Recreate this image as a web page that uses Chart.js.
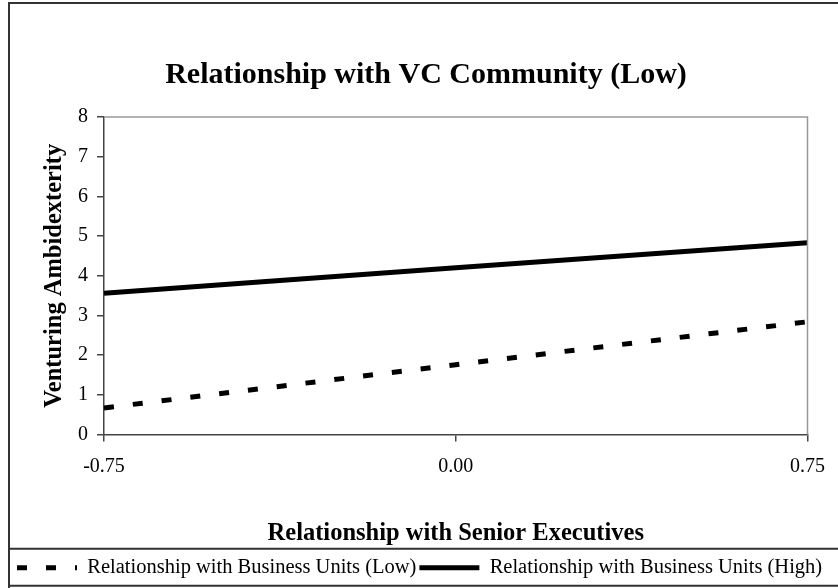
<!DOCTYPE html>
<html>
<head>
<meta charset="utf-8">
<script src="https://cdn.jsdelivr.net/npm/chart.js@4/dist/chart.umd.min.js"></script>
<style>
  body { margin: 0; background: #fff; }
  canvas { display: block; }
</style>
</head>
<body>
<canvas id="chart" width="838" height="588"></canvas>
<script>
const categories = ['-0.75', '0.00', '0.75'];
const lowValues = [0.67, 1.76, 2.84];
const highValues = [3.56, 4.20, 4.83];
const seriesNames = ['Relationship with Business Units (Low)', 'Relationship with Business Units (High)'];

Chart.defaults.font.family = '"Liberation Serif", "Times New Roman", serif';
Chart.defaults.color = '#000';

// frame around the chart, legend box and the grey top/right edge of the plot
const framePlugin = {
  id: 'frame',
  afterDraw(chart) {
    const ctx = chart.ctx;
    const a = chart.chartArea;
    const lg = chart.legend;
    ctx.save();
    ctx.strokeStyle = '#999';
    ctx.lineWidth = 1.5;
    ctx.beginPath();
    ctx.moveTo(a.left, a.top);
    ctx.lineTo(a.right, a.top);
    ctx.lineTo(a.right, a.bottom);
    ctx.stroke();

    ctx.strokeStyle = '#333';
    ctx.lineWidth = 2;
    ctx.beginPath();
    ctx.moveTo(9, chart.height);
    ctx.lineTo(9, 3);
    ctx.lineTo(chart.width, 3);
    const mid = lg.top + lg.options.labels.padding + lg.options.labels.font.size / 2;
    ctx.moveTo(9, mid - 19);
    ctx.lineTo(chart.width, mid - 19);
    ctx.moveTo(9, mid + 18);
    ctx.lineTo(chart.width, mid + 18);
    ctx.stroke();
    ctx.restore();
  }
};

new Chart(document.getElementById('chart'), {
  type: 'line',
  data: {
    labels: categories,
    datasets: [
      {
        label: seriesNames[0],
        data: lowValues,
        borderColor: '#000',
        backgroundColor: '#000',
        borderWidth: 5,
        borderDash: [10, 19],
        pointRadius: 0,
        tension: 0
      },
      {
        label: seriesNames[1],
        data: highValues,
        borderColor: '#000',
        backgroundColor: '#000',
        borderWidth: 5,
        pointRadius: 0,
        tension: 0
      }
    ]
  },
  options: {
    responsive: false,
    animation: false,
    layout: { padding: { left: 14, right: 0, top: 0, bottom: 0 } },
    plugins: {
      title: {
        display: true,
        text: 'Relationship with VC Community (Low)',
        font: { size: 30, weight: 'bold' },
        padding: { top: 57, bottom: 24 }
      },
      legend: {
        position: 'bottom',
        align: 'start',
        labels: {
          usePointStyle: true,
          pointStyle: 'line',
          pointStyleWidth: 60,
          boxWidth: 60,
          padding: 3,
          font: { size: 20.5 },
          generateLabels(chart) {
            const items = Chart.defaults.plugins.legend.labels.generateLabels(chart);
            items.forEach((it, i) => {
              it.lineDash = chart.data.datasets[i].borderDash || [];
              it.lineWidth = 5;
            });
            return items;
          }
        }
      },
      tooltip: { enabled: false }
    },
    scales: {
      x: {
        type: 'category',
        offset: false,
        grid: { drawOnChartArea: false, tickLength: 7, color: '#444', lineWidth: 1.5 },
        border: { color: '#444', width: 1.5 },
        ticks: { font: { size: 20 }, padding: 13, maxRotation: 0 },
        title: {
          display: true,
          text: 'Relationship with Senior Executives',
          font: { size: 24.5, weight: 'bold' },
          padding: { top: 0, bottom: 6 }
        },
        afterFit(s) { s.height = 120; }
      },
      y: {
        min: 0,
        max: 8,
        grid: { drawOnChartArea: false, tickLength: 7, color: '#444', lineWidth: 1.5 },
        border: { color: '#444', width: 1.5 },
        ticks: { stepSize: 1, font: { size: 20 }, padding: 9 },
        title: {
          display: true,
          text: 'Venturing Ambidexterity',
          font: { size: 24.5, weight: 'bold' },
          padding: { top: 26, bottom: 0 }
        },
        afterFit(s) { s.width = 90; }
      },
      spacer: {
        position: 'right',
        grid: { display: false },
        border: { display: false },
        ticks: { display: false },
        afterFit(s) { s.width = 30; }
      }
    }
  },
  plugins: [framePlugin]
});
</script>
</body>
</html>
